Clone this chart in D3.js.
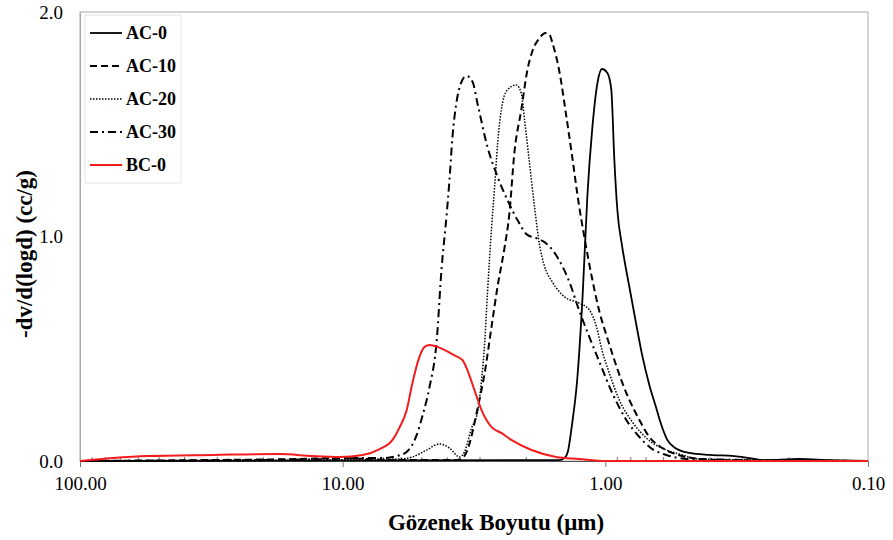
<!DOCTYPE html>
<html>
<head>
<meta charset="utf-8">
<script src="https://cdn.jsdelivr.net/npm/d3@7"></script>
<style>
  html, body { margin: 0; padding: 0; background: #fff; }
  svg { display: block; }
  text { font-family: "Liberation Serif", "Times New Roman", serif; }
</style>
</head>
<body>
<svg id="chart" width="893" height="540"></svg>
<script>
// ---- data (pore size in µm, -dv/d(logd) in cc/g) ----
const seriesNames = ["AC-0", "AC-10", "AC-20", "AC-30", "BC-0"];

const ac0Size = [100, 1.50, 1.43, 1.39, 1.34, 1.28, 1.22, 1.17, 1.12, 1.07, 1.03, 0.982, 0.949, 0.924, 0.900, 0.862, 0.810, 0.762, 0.723, 0.680, 0.645, 0.612, 0.581, 0.542, 0.479, 0.402, 0.323, 0.283, 0.249, 0.183, 0.141, 0.1];
const ac0Val  = [0, 0.004, 0.013, 0.040, 0.160, 0.361, 0.739, 1.185, 1.488, 1.688, 1.746, 1.728, 1.653, 1.341, 1.118, 0.953, 0.775, 0.606, 0.468, 0.339, 0.249, 0.160, 0.094, 0.058, 0.036, 0.027, 0.022, 0.013, 0.004, 0.009, 0.004, 0];

const ac10Size = [100, 35.0, 14.6, 10.26, 6.07, 3.75, 3.50, 3.35, 3.07, 2.88, 2.71, 2.57, 2.42, 2.32, 2.22, 2.09, 1.98, 1.90, 1.78, 1.69, 1.63, 1.59, 1.50, 1.41, 1.34, 1.26, 1.20, 1.12, 1.05, 0.991, 0.924, 0.870, 0.810, 0.742, 0.680, 0.623, 0.556, 0.492, 0.439, 0.369, 0.1];
const ac10Val  = [0, 0.004, 0.009, 0.013, 0.004, 0.004, 0.013, 0.049, 0.230, 0.392, 0.600, 0.780, 0.950, 1.100, 1.372, 1.563, 1.742, 1.822, 1.884, 1.906, 1.898, 1.862, 1.742, 1.541, 1.363, 1.140, 0.993, 0.806, 0.659, 0.561, 0.450, 0.361, 0.272, 0.183, 0.107, 0.067, 0.036, 0.018, 0.009, 0.004, 0];

const ac20Size = [100, 14.6, 6.07, 5.42, 4.79, 4.28, 3.92, 3.59, 3.44, 3.23, 3.07, 2.96, 2.88, 2.81, 2.71, 2.64, 2.57, 2.49, 2.36, 2.18, 2.09, 2.03, 1.95, 1.86, 1.78, 1.71, 1.59, 1.43, 1.26, 1.15, 1.08, 1.03, 0.966, 0.885, 0.789, 0.698, 0.586, 0.523, 0.439, 0.1];
const ac20Val  = [0, 0.004, 0.009, 0.018, 0.049, 0.076, 0.058, 0.018, 0.040, 0.147, 0.214, 0.361, 0.526, 0.748, 1.042, 1.220, 1.416, 1.563, 1.653, 1.675, 1.639, 1.519, 1.341, 1.131, 0.962, 0.873, 0.797, 0.731, 0.704, 0.673, 0.597, 0.494, 0.392, 0.272, 0.174, 0.102, 0.049, 0.031, 0.009, 0];

const ac30Size = [100, 22.6, 11.2, 8.62, 6.92, 6.23, 5.71, 5.23, 4.97, 4.67, 4.39, 4.20, 4.02, 3.92, 3.82, 3.69, 3.53, 3.38, 3.20, 3.07, 2.81, 2.57, 2.36, 2.16, 1.98, 1.83, 1.71, 1.59, 1.50, 1.37, 1.26, 1.15, 1.05, 0.941, 0.832, 0.742, 0.662, 0.586, 0.479, 0.1];
const ac30Val  = [0, 0.004, 0.009, 0.013, 0.013, 0.022, 0.040, 0.115, 0.200, 0.330, 0.530, 0.860, 1.096, 1.252, 1.443, 1.595, 1.688, 1.715, 1.688, 1.595, 1.399, 1.265, 1.163, 1.073, 1.007, 0.993, 0.976, 0.940, 0.895, 0.797, 0.673, 0.552, 0.437, 0.303, 0.183, 0.107, 0.053, 0.027, 0.009, 0];

const bc0Size = [100, 74.9, 55.6, 31.2, 17.4, 13.0, 10.26, 8.39, 7.23, 6.45, 6.07, 5.71, 5.42, 5.10, 4.88, 4.67, 4.28, 3.75, 3.50, 3.35, 3.15, 2.96, 2.71, 2.49, 2.28, 1.91, 1.54, 1.26, 0.991, 0.1];
const bc0Val  = [0, 0.013, 0.022, 0.027, 0.031, 0.022, 0.018, 0.027, 0.053, 0.095, 0.150, 0.225, 0.350, 0.465, 0.508, 0.517, 0.505, 0.470, 0.450, 0.405, 0.316, 0.227, 0.151, 0.125, 0.094, 0.049, 0.018, 0.009, 0, 0];

const xTickValues = [100, 10, 1, 0.1];
const xTickLabels = ["100.00", "10.00", "1.00", "0.10"];
const yTickValues = [0, 1, 2];
const yTickLabels = ["0.0", "1.0", "2.0"];

const xTitle = "Gözenek Boyutu (μm)";
const yTitle = "-dv/d(logd) (cc/g)";

// ---- styles ----
const styles = {
  "AC-0":  { color: "#000", width: 1.8, dash: null },
  "AC-10": { color: "#000", width: 2.0, dash: "7,4" },
  "AC-20": { color: "#000", width: 1.5, dash: "1.5,1.5" },
  "AC-30": { color: "#000", width: 2.0, dash: "8,4,2,4" },
  "BC-0":  { color: "#f21c1c", width: 2.0, dash: null }
};

const sizes = [ac0Size, ac10Size, ac20Size, ac30Size, bc0Size];
const vals  = [ac0Val, ac10Val, ac20Val, ac30Val, bc0Val];
const series = seriesNames.map((name, i) => ({
  name,
  points: sizes[i].map((d, j) => ({ d, v: vals[i][j] }))
}));

// ---- layout ----
const svg = d3.select("#chart");
const pLeft = 80, pRight = 868, pTop = 12, pBottom = 461;

const x = d3.scaleLog().domain([100, 0.1]).range([pLeft, pRight]);
const y = d3.scaleLinear().domain([0, 2]).range([pBottom, pTop]);

// frame
svg.append("rect")
  .attr("x", pLeft).attr("y", pTop)
  .attr("width", pRight - pLeft).attr("height", pBottom - pTop)
  .attr("fill", "none").attr("stroke", "#a8a8a8").attr("stroke-width", 1);

// minor ticks (inside, upward)
const minor = [];
[10, 1, 0.1].forEach(base => { for (let k = 2; k <= 9; k++) minor.push(base * k); });
svg.append("g").selectAll("line").data(minor).join("line")
  .attr("x1", d => x(d)).attr("x2", d => x(d))
  .attr("y1", pBottom).attr("y2", pBottom - 4)
  .attr("stroke", "#777").attr("stroke-width", 1);

// x axis
const xAxis = d3.axisBottom(x)
  .tickValues(xTickValues)
  .tickFormat((d, i) => xTickLabels[i])
  .tickSize(6).tickPadding(10);
const gx = svg.append("g").attr("transform", `translate(0,${pBottom})`).call(xAxis);
gx.select(".domain").attr("stroke", "#555");
gx.selectAll(".tick line").attr("stroke", "#777");
gx.selectAll(".tick text")
  .attr("font-family", "Liberation Serif, serif")
  .attr("font-size", 19).attr("fill", "#000");

// y axis
const yAxis = d3.axisLeft(y)
  .tickValues(yTickValues)
  .tickFormat((d, i) => yTickLabels[i])
  .tickSize(0).tickPadding(17);
const gy = svg.append("g").attr("transform", `translate(${pLeft},0)`).call(yAxis);
gy.select(".domain").attr("stroke", "#a8a8a8");
gy.selectAll(".tick text")
  .attr("font-family", "Liberation Serif, serif")
  .attr("font-size", 19).attr("fill", "#000");

// curves
const line = d3.line()
  .x(p => x(p.d))
  .y(p => y(p.v))
  .curve(d3.curveMonotoneX);

const drawOrder = ["AC-0", "AC-10", "AC-20", "AC-30", "BC-0"];
drawOrder.forEach(name => {
  const s = series.find(q => q.name === name);
  const st = styles[name];
  svg.append("path")
    .datum(s.points)
    .attr("d", line)
    .attr("fill", "none")
    .attr("stroke", st.color)
    .attr("stroke-width", st.width)
    .attr("stroke-dasharray", st.dash)
    .attr("stroke-linejoin", "round");
});

// legend
const lg = svg.append("g");
lg.append("rect")
  .attr("x", 85).attr("y", 15).attr("width", 96).attr("height", 168)
  .attr("fill", "#fff").attr("stroke", "#e4e4e4").attr("stroke-width", 1);
seriesNames.forEach((name, i) => {
  const yy = 33 + i * 33;
  const st = styles[name];
  lg.append("line")
    .attr("x1", 90).attr("x2", 122).attr("y1", yy).attr("y2", yy)
    .attr("stroke", st.color).attr("stroke-width", st.width)
    .attr("stroke-dasharray", st.dash);
  lg.append("text")
    .attr("x", 126).attr("y", yy).attr("dy", "0.35em")
    .attr("font-size", 18).attr("font-weight", "bold")
    .text(name);
});

// axis titles
svg.append("text")
  .attr("x", 496).attr("y", 522).attr("dy", "0.35em")
  .attr("text-anchor", "middle")
  .attr("font-size", 23).attr("font-weight", "bold")
  .text(xTitle);

svg.append("text")
  .attr("transform", "translate(24,254) rotate(-90)")
  .attr("dy", "0.35em")
  .attr("text-anchor", "middle")
  .attr("font-size", 23).attr("font-weight", "bold")
  .text(yTitle);
</script>
</body>
</html>
